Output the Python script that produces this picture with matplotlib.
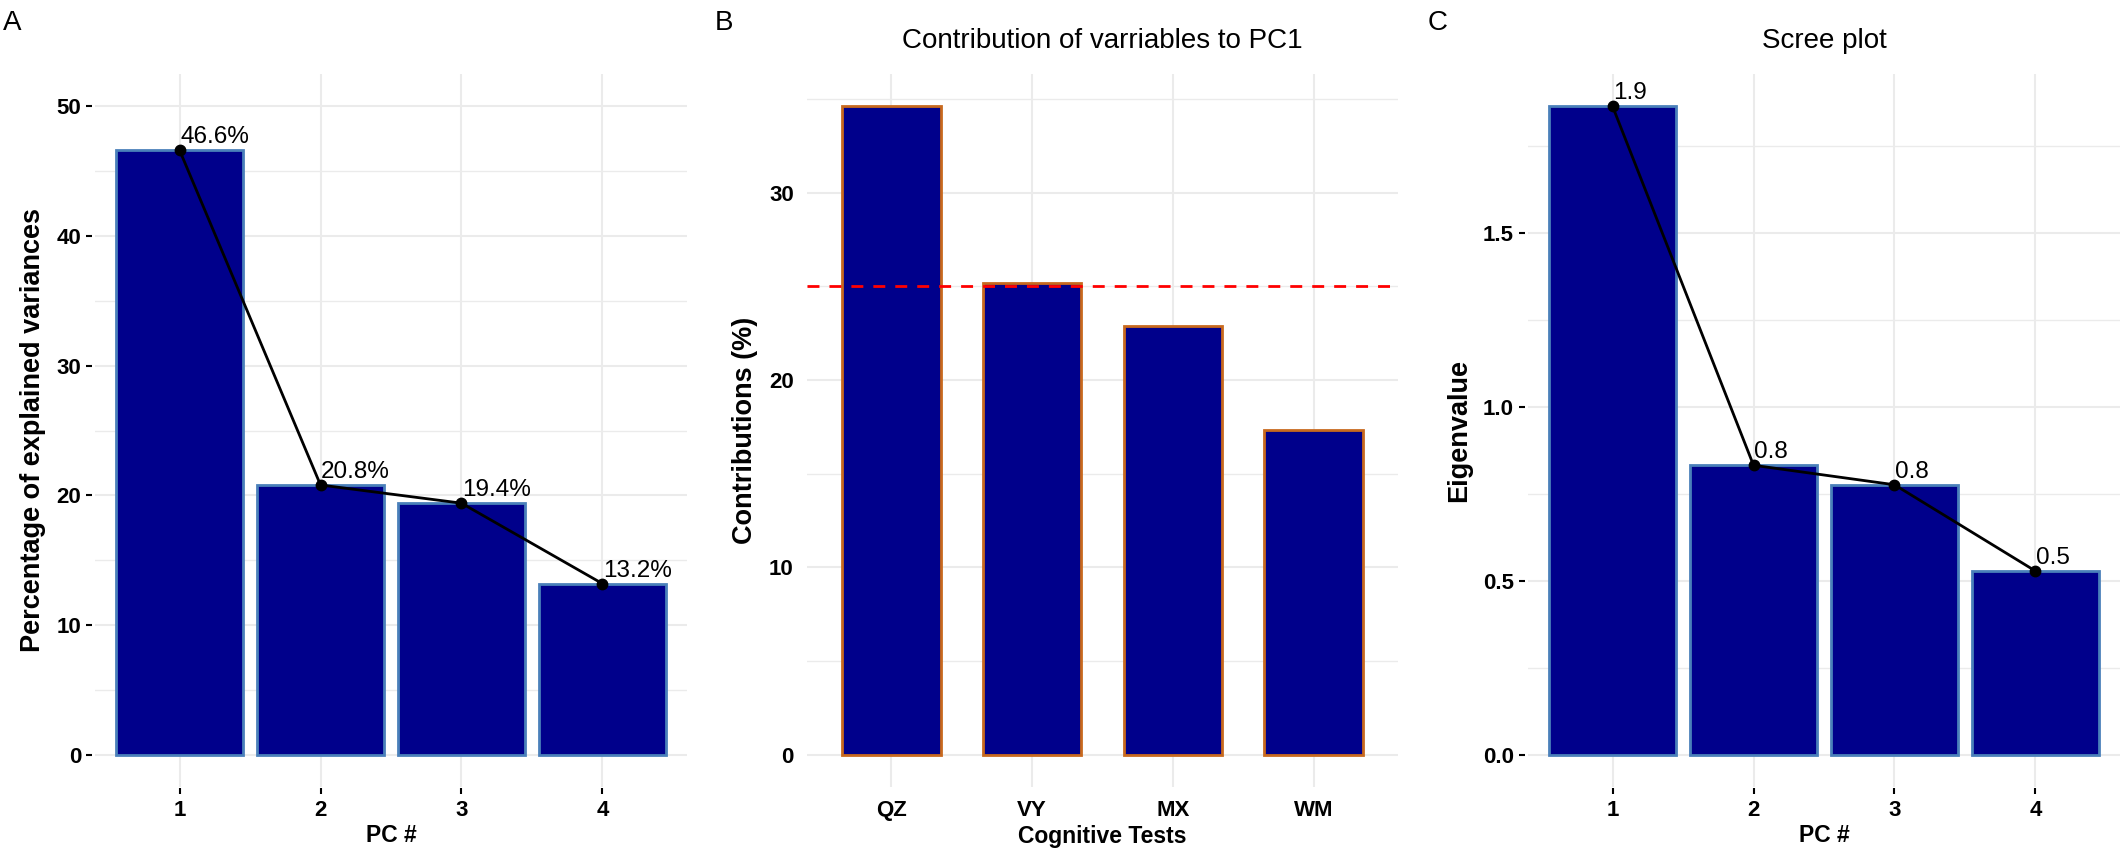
import matplotlib
matplotlib.use('Agg')
import matplotlib.pyplot as plt
from matplotlib.ticker import MultipleLocator

plt.rcParams['font.family'] = ['Liberation Sans', 'DejaVu Sans']
plt.rcParams['lines.scale_dashes'] = False

# data
pcs = [1, 2, 3, 4]
explained = [46.6, 20.8, 19.4, 13.2]
explained_labels = ['46.6%', '20.8%', '19.4%', '13.2%']
eigenvalues = [1.864, 0.832, 0.776, 0.528]
eigen_labels = ['1.9', '0.8', '0.8', '0.5']
tests = ['QZ', 'VY', 'MX', 'WM']
contrib = [34.6, 25.2, 22.9, 17.3]
contrib_ref = 25

W, H = 2126, 857
BAR_FILL = '#00008B'
EDGE_BLUE = '#4A80BA'
EDGE_ORANGE = '#C8691E'
GRID = '#EBEBEB'
YLAB_SIZE = 19.5
XLAB_SIZE = 16.5
TICK_SIZE = 16
ANNOT_SIZE = 17.5
TITLE_SIZE = 20


def px_axes(fig, l, r, t, b):
    return fig.add_axes([l / W, (H - b) / H, (r - l) / W, (b - t) / H])


def style_axes(ax, ticks=True):
    for s in ax.spines.values():
        s.set_visible(False)
    ax.set_axisbelow(True)
    ax.grid(axis='y', which='major', color=GRID, lw=1.5)
    ax.grid(axis='y', which='minor', color=GRID, lw=1.0)
    ax.grid(axis='x', which='major', color=GRID, lw=1.5)
    ax.tick_params(axis='x', which='minor', bottom=False)
    ax.tick_params(axis='y', which='minor', left=False)
    if ticks:
        ax.spines['left'].set_position(('outward', 2))
        ax.spines['bottom'].set_position(('outward', 1))
        ax.tick_params(which='major', length=4.5, width=1.5, color='black',
                       labelsize=TICK_SIZE, pad=3.5)
    else:
        ax.tick_params(which='major', length=0, labelsize=TICK_SIZE, pad=9.5)
    for lab in ax.get_xticklabels() + ax.get_yticklabels():
        lab.set_fontweight('bold')


fig = plt.figure(figsize=(W / 100, H / 100), dpi=100)

# ---- A: explained variance
axA = px_axes(fig, 95, 687, 74, 787)
axA.bar(pcs, explained, width=0.9, color=BAR_FILL, edgecolor=EDGE_BLUE, linewidth=2, zorder=2)
axA.plot(pcs, explained, color='black', lw=2, marker='o', ms=7.5, zorder=3)
for x, y, t in zip(pcs, explained, explained_labels):
    axA.annotate(t, (x, y), xytext=(0.5, 5), textcoords='offset points',
                 ha='left', va='baseline', fontsize=ANNOT_SIZE, zorder=4)
axA.set_xlim(0.4, 4.6)
axA.set_ylim(-2.47, 52.47)
axA.set_xticks(pcs)
axA.yaxis.set_major_locator(MultipleLocator(10))
axA.yaxis.set_minor_locator(MultipleLocator(5))
style_axes(axA)
axA.set_ylabel('Percentage of explained variances', fontsize=YLAB_SIZE, fontweight='bold', va='center')
axA.set_xlabel('PC #', fontsize=XLAB_SIZE, fontweight='bold', va='center')
axA.yaxis.set_label_coords((33 - 95) / 592, 0.5)
axA.xaxis.set_label_coords(0.5, (787 - 836) / 713)

# ---- B: contributions to PC1
axB = px_axes(fig, 807, 1398, 74, 787)
xb = list(range(len(tests)))
axB.bar(xb, contrib, width=0.7, color=BAR_FILL, edgecolor=EDGE_ORANGE, linewidth=2, zorder=2)
axB.axhline(contrib_ref, color='red', lw=2, ls=(0, (8.6, 7.2)), zorder=3)
axB.set_xlim(-0.6, 3.6)
axB.set_ylim(-1.73, 36.33)
axB.set_xticks(xb)
axB.set_xticklabels(tests)
axB.yaxis.set_major_locator(MultipleLocator(10))
axB.yaxis.set_minor_locator(MultipleLocator(5))
style_axes(axB, ticks=False)
axB.set_title('Contribution of varriables to PC1', fontsize=TITLE_SIZE, pad=19)
axB.set_ylabel('Contributions (%)', fontsize=YLAB_SIZE, fontweight='bold', va='center')
axB.set_xlabel('Cognitive Tests', fontsize=XLAB_SIZE, fontweight='bold', va='center')
axB.yaxis.set_label_coords((745 - 807) / 591, 0.5)
axB.xaxis.set_label_coords(0.5, (787 - 836) / 713)

# ---- C: scree plot
axC = px_axes(fig, 1528, 2120, 74, 787)
axC.bar(pcs, eigenvalues, width=0.9, color=BAR_FILL, edgecolor=EDGE_BLUE, linewidth=2, zorder=2)
axC.plot(pcs, eigenvalues, color='black', lw=2, marker='o', ms=7.5, zorder=3)
for x, y, t in zip(pcs, eigenvalues, eigen_labels):
    axC.annotate(t, (x, y), xytext=(0.5, 5), textcoords='offset points',
                 ha='left', va='baseline', fontsize=ANNOT_SIZE, zorder=4)
axC.set_xlim(0.4, 4.6)
axC.set_ylim(-0.093, 1.957)
axC.set_xticks(pcs)
axC.yaxis.set_major_locator(MultipleLocator(0.5))
axC.yaxis.set_minor_locator(MultipleLocator(0.25))
axC.yaxis.set_major_formatter(matplotlib.ticker.FormatStrFormatter('%.1f'))
style_axes(axC)
axC.set_title('Scree plot', fontsize=TITLE_SIZE, pad=19)
axC.set_ylabel('Eigenvalue', fontsize=YLAB_SIZE, fontweight='bold', va='center')
axC.set_xlabel('PC #', fontsize=XLAB_SIZE, fontweight='bold', va='center')
axC.yaxis.set_label_coords((1459 - 1528) / 592, 0.5)
axC.xaxis.set_label_coords(0.5, (787 - 836) / 713)

# panel letters
for x, t in [(3, 'A'), (715, 'B'), (1428, 'C')]:
    fig.text(x / W, (H - 30) / H, t, fontsize=20, va='baseline', ha='left')

fig.savefig('out.png', dpi=100, facecolor='white')
